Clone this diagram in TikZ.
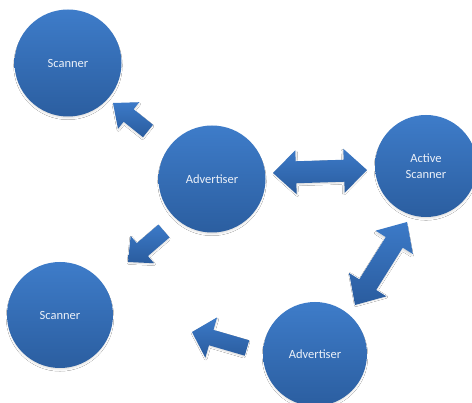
\documentclass[tikz,border=0pt]{standalone}
\usepackage{fontspec}
\setmainfont{Carlito}
\usetikzlibrary{calc,shadows.blur}

\definecolor{bubbletop}{RGB}{62,124,201}
\definecolor{bubblebot}{RGB}{43,94,160}
\definecolor{arrowlight}{RGB}{60,122,200}
\definecolor{arrowdark}{RGB}{42,92,158}
\definecolor{labeltext}{RGB}{236,241,249}

% single-headed block arrow: tail, tip, shaft half-width, head half-width, head length
\newcommand\blkarrow[5]{%
  \coordinate (ba-h) at ($(#2)!#5!(#1)$);
  \shade[arrowbody]
    ($(#1)!#3!90:(#2)$) -- ($(ba-h)!#3!90:(#2)$) -- ($(ba-h)!#4!90:(#2)$) --
    (#2) --
    ($(ba-h)!#4!-90:(#2)$) -- ($(ba-h)!#3!-90:(#2)$) -- ($(#1)!#3!-90:(#2)$) -- cycle;
}
% double-headed block arrow: end, end, shaft half-width, head half-width, head length
\newcommand\dblarrow[5]{%
  \coordinate (da-a) at ($(#1)!#5!(#2)$);
  \coordinate (da-b) at ($(#2)!#5!(#1)$);
  \shade[arrowbody]
    (#1) --
    ($(da-a)!#4!90:(#2)$) -- ($(da-a)!#3!90:(#2)$) --
    ($(da-b)!#3!90:(#2)$) -- ($(da-b)!#4!90:(#2)$) --
    (#2) --
    ($(da-b)!#4!-90:(#2)$) -- ($(da-b)!#3!-90:(#2)$) --
    ($(da-a)!#3!-90:(#2)$) -- ($(da-a)!#4!-90:(#2)$) -- cycle;
}

\tikzset{
  bubble/.style={circle, inner sep=0pt, draw=none,
    top color=bubbletop, bottom color=bubblebot,
    text=labeltext, align=center,
    font=\fontsize{12.5}{15.5}\selectfont,
    blur shadow={shadow xshift=0pt, shadow yshift=-2.5pt, shadow scale=0.97,
      shadow blur radius=2.5pt, shadow opacity=18}},
  arrowbody/.style={top color=arrowlight, bottom color=arrowdark,
    blur shadow={shadow xshift=0pt, shadow yshift=-1.5pt, shadow scale=0.97,
      shadow blur radius=1.5pt, shadow opacity=15}},
}

\begin{document}
\begin{tikzpicture}[x=1pt,y=-1pt]
  \clip (0,0) rectangle (472,403);
  \fill[white] (0,0) rectangle (472,403);

  % stations
  \node[bubble, minimum size=107pt] (scanA) at (68,63) {Scanner};
  \node[bubble, minimum size=107pt] (advA)  at (212,179) {Advertiser};
  \node[bubble, minimum size=102pt] (actS)  at (426,166) {Active\\Scanner};
  \node[bubble, minimum size=106pt] (scanB) at (60,315) {Scanner};
  \node[bubble, minimum size=104pt] (advB)  at (315,354) {Advertiser};

  % arrow end points
  \coordinate (a1t) at (148,131); \coordinate (a1h) at (113,103);
  \coordinate (a2t) at (164,231); \coordinate (a2h) at (128,262);
  \coordinate (a3l) at (273,173); \coordinate (a3r) at (367,170);
  \coordinate (a4b) at (355,305); \coordinate (a4u) at (407,222);
  \coordinate (a5t) at (247,348); \coordinate (a5h) at (192,332);

  % block arrows
  \blkarrow{a1t}{a1h}{8pt}{17pt}{20pt}
  \blkarrow{a2t}{a2h}{8.5pt}{18pt}{19pt}
  \dblarrow{a3l}{a3r}{11pt}{22pt}{23pt}
  \dblarrow{a4b}{a4u}{10pt}{22pt}{24pt}
  \blkarrow{a5t}{a5h}{8pt}{21pt}{20pt}
\end{tikzpicture}
\end{document}
